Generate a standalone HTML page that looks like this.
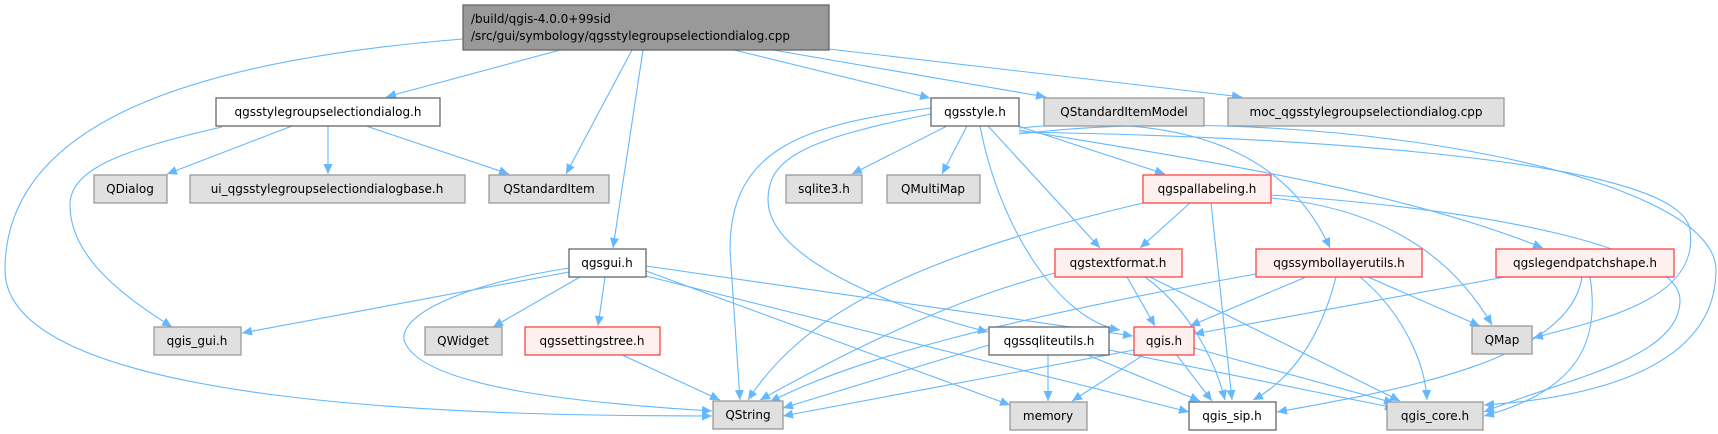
<!DOCTYPE html>
<html><head><meta charset="utf-8"><style>
html,body{margin:0;padding:0;background:#fff;}
svg{display:block;}
text{font-family:"DejaVu Sans","Liberation Sans",sans-serif;font-size:12px;fill:#000;}
.e{fill:none;stroke:#63b8ff;stroke-width:1.1;}
.n{fill:#fff;stroke:#666;stroke-width:1.3;}
.g{fill:#e0e0e0;stroke:#999;stroke-width:1.3;}
.r{fill:#fff0f0;stroke:#f44;stroke-width:1.3;}
</style></head><body>
<svg width="1718" height="434" viewBox="0 0 1718 434" xmlns="http://www.w3.org/2000/svg">
<defs><marker id="a" markerWidth="11" markerHeight="9" refX="10" refY="4.5" orient="auto" markerUnits="userSpaceOnUse"><path d="M0,0 L10,4.5 L0,9 Z" fill="#63b8ff"/></marker></defs>
<g class="e" marker-end="url(#a)">
<!-- root -->
<path d="M463,39 C200,60 5,120 5,270 C5,410 500,416 712,416"/>
<path d="M560,50 L386,97"/>
<path d="M632,50 L566,174"/>
<path d="M643,50 L613,248"/>
<path d="M734,50 L930,98"/>
<path d="M773,50 L1046,97"/>
<path d="M820,48 L1242,97"/>
<!-- qgsstylegroupselectiondialog.h -->
<path d="M292,126 L167,174"/>
<path d="M328,126 L328,174"/>
<path d="M366,126 L509,174"/>
<path d="M222,127 C120,150 70,170 70,205 C70,260 130,300 172,327"/>
<!-- qgsgui.h -->
<path d="M569,272 L242,333"/>
<path d="M580,277 L493,327"/>
<path d="M605,277 L598,326"/>
<path d="M569,268 C460,285 400,315 404,340 C420,390 600,404 712,411"/>
<path d="M646,266 L1133,336"/>
<path d="M646,271 L1010,405"/>
<path d="M646,276 L1189,412"/>
<!-- settingstree -->
<path d="M620,354 L720,400"/>
<!-- qgsstyle.h -->
<path d="M947,126 L852,174"/>
<path d="M967,126 L942,174"/>
<path d="M1018,126 L1165,174"/>
<path d="M988,126 L1100,248"/>
<path d="M980,126 C1000,230 1060,320 1120,330"/>
<path d="M931,108 C800,125 730,150 730,250 L740,400"/>
<path d="M931,114 C800,140 768,160 768,200 C768,260 900,310 988,332"/>
<path d="M1019,128 C1200,110 1290,160 1330,248"/>
<path d="M1019,130 C1200,160 1400,190 1543,248"/>
<path d="M1019,132 C1200,135 1680,150 1690,230 C1700,300 1600,320 1533,338"/>
<path d="M1019,134 C1300,100 1716,170 1716,270 C1716,380 1560,400 1484,405"/>
<!-- pallabeling -->
<path d="M1190,203 L1140,248"/>
<path d="M1143,203 C900,260 800,320 748,400"/>
<path d="M1211,203 L1232,400"/>
<path d="M1271,198 C1400,210 1460,270 1492,325"/>
<path d="M1271,195 C1500,210 1680,250 1680,300 C1680,360 1560,380 1484,412"/>
<!-- textformat -->
<path d="M1127,277 L1155,326"/>
<path d="M1055,273 C950,300 850,350 760,400"/>
<path d="M1145,277 C1190,310 1215,360 1225,400"/>
<path d="M1150,277 L1400,401"/>
<!-- symbollayerutils -->
<path d="M1306,277 L1190,326"/>
<path d="M1256,274 C1000,320 850,360 770,402"/>
<path d="M1336,277 C1320,340 1290,380 1253,400"/>
<path d="M1368,277 L1480,326"/>
<path d="M1360,277 C1400,310 1425,360 1427,400"/>
<!-- legendpatchshape -->
<path d="M1505,277 L1194,334"/>
<path d="M1582,277 C1570,360 1400,390 1277,412"/>
<path d="M1590,277 C1600,340 1580,390 1484,416"/>
<!-- sqliteutils -->
<path d="M989,345 L783,408"/>
<path d="M1048,354 L1048,401"/>
<path d="M1085,354 L1200,401"/>
<path d="M1109,350 L1395,408"/>
<!-- qgis.h -->
<path d="M1134,350 L783,416"/>
<path d="M1145,354 L1072,401"/>
<path d="M1176,354 L1212,401"/>
<path d="M1194,348 L1394,403"/>
</g>
<!-- nodes -->
<rect class="n" x="463" y="5" width="366" height="45" fill="#999" style="fill:#999"/>
<text x="471" y="23">/build/qgis-4.0.0+99sid</text>
<text x="471" y="40">/src/gui/symbology/qgsstylegroupselectiondialog.cpp</text>

<rect class="n" x="216" y="98" width="224" height="28"/><text x="328" y="116" text-anchor="middle">qgsstylegroupselectiondialog.h</text>
<rect class="n" x="931" y="98" width="88" height="28"/><text x="975" y="116" text-anchor="middle">qgsstyle.h</text>
<rect class="g" x="1044" y="98" width="160" height="28"/><text x="1124" y="116" text-anchor="middle">QStandardItemModel</text>
<rect class="g" x="1228" y="98" width="276" height="28"/><text x="1366" y="116" text-anchor="middle">moc_qgsstylegroupselectiondialog.cpp</text>

<rect class="g" x="94" y="175" width="73" height="28"/><text x="130" y="193" text-anchor="middle">QDialog</text>
<rect class="g" x="190" y="175" width="275" height="28"/><text x="327" y="193" text-anchor="middle">ui_qgsstylegroupselectiondialogbase.h</text>
<rect class="g" x="489" y="175" width="120" height="28"/><text x="549" y="193" text-anchor="middle">QStandardItem</text>
<rect class="g" x="786" y="175" width="76" height="28"/><text x="824" y="193" text-anchor="middle">sqlite3.h</text>
<rect class="g" x="887" y="175" width="93" height="28"/><text x="933" y="193" text-anchor="middle">QMultiMap</text>
<rect class="r" x="1143" y="175" width="128" height="28"/><text x="1207" y="193" text-anchor="middle">qgspallabeling.h</text>

<rect class="n" x="569" y="249" width="77" height="28"/><text x="607" y="267" text-anchor="middle">qgsgui.h</text>
<rect class="r" x="1055" y="249" width="127" height="28"/><text x="1118" y="267" text-anchor="middle">qgstextformat.h</text>
<rect class="r" x="1256" y="249" width="166" height="28"/><text x="1339" y="267" text-anchor="middle">qgssymbollayerutils.h</text>
<rect class="r" x="1496" y="249" width="178" height="28"/><text x="1585" y="267" text-anchor="middle">qgslegendpatchshape.h</text>

<rect class="g" x="154" y="327" width="87" height="28"/><text x="197" y="345" text-anchor="middle">qgis_gui.h</text>
<rect class="g" x="425" y="327" width="77" height="28"/><text x="463" y="345" text-anchor="middle">QWidget</text>
<rect class="r" x="525" y="327" width="135" height="28"/><text x="592" y="345" text-anchor="middle">qgssettingstree.h</text>
<rect class="n" x="989" y="327" width="120" height="28"/><text x="1049" y="345" text-anchor="middle">qgssqliteutils.h</text>
<rect class="r" x="1134" y="327" width="60" height="28"/><text x="1164" y="345" text-anchor="middle">qgis.h</text>
<rect class="g" x="1472" y="326" width="60" height="28"/><text x="1502" y="344" text-anchor="middle">QMap</text>

<rect class="g" x="713" y="401" width="70" height="28"/><text x="748" y="419" text-anchor="middle">QString</text>
<rect class="g" x="1010" y="402" width="77" height="28"/><text x="1048" y="420" text-anchor="middle">memory</text>
<rect class="n" x="1189" y="402" width="87" height="28"/><text x="1232" y="420" text-anchor="middle">qgis_sip.h</text>
<rect class="g" x="1387" y="402" width="96" height="28"/><text x="1435" y="420" text-anchor="middle">qgis_core.h</text>
</svg>
</body></html>
